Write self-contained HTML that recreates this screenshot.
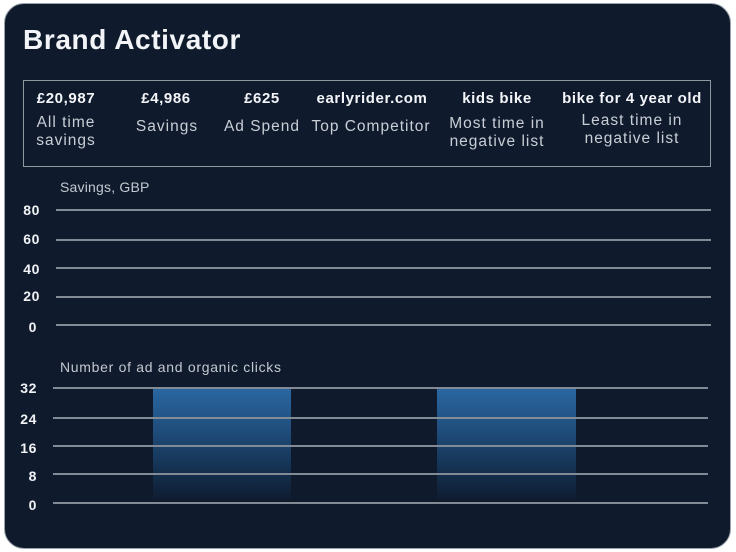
<!DOCTYPE html>
<html><head><meta charset="utf-8"><style>
*{margin:0;padding:0;box-sizing:border-box}
body{width:736px;height:552px;background:#fff;position:relative;overflow:hidden;font-family:"Liberation Sans",sans-serif}
.card{position:absolute;left:4px;top:3px;width:727px;height:546px;background:#0f1b2d;border-radius:20px;border:1px solid #9aa2ad}
.abs{position:absolute;white-space:nowrap}
.title{left:23px;top:24px;font-size:28px;font-weight:bold;color:#f2f4f7;letter-spacing:0.6px}
.box{position:absolute;left:23px;top:80px;width:688px;height:87px;border:1.5px solid #8f97a1}
.v{font-size:15px;font-weight:bold;color:#f3f5f8;letter-spacing:0.6px;transform:translateX(-50%);text-align:center;line-height:18px}
.d{font-size:15.5px;color:#c9ced6;letter-spacing:1px;transform:translateX(-50%);text-align:center;line-height:18px}
.ct{font-size:14px;color:#c3c8cf;letter-spacing:0.2px}
.g{position:absolute;height:1.5px;background:#828a95}
.yl{font-size:14px;font-weight:bold;color:#f0f2f5;text-align:right;width:30px;line-height:16px;letter-spacing:0.6px}
.bar{position:absolute;top:387px;height:112px;background:linear-gradient(to bottom,#2a68a3 0%,#1f4c7a 40%,#14304f 75%,#0f1d33 100%)}
</style></head><body>
<div class="card"></div>
<div class="abs title">Brand Activator</div>
<div class="box"></div>

<div class="abs v" style="left:66px;top:90px">£20,987</div>
<div class="abs d" style="left:66px;top:114px">All time<br>savings</div>

<div class="abs v" style="left:166px;top:90px">£4,986</div>
<div class="abs d" style="left:167px;top:118px">Savings</div>

<div class="abs v" style="left:262px;top:90px">£625</div>
<div class="abs d" style="left:262px;top:118px">Ad Spend</div>

<div class="abs v" style="left:372px;top:90px">earlyrider.com</div>
<div class="abs d" style="left:371px;top:118px">Top Competitor</div>

<div class="abs v" style="left:497px;top:90px">kids bike</div>
<div class="abs d" style="left:497px;top:115px">Most time in<br>negative list</div>

<div class="abs v" style="left:632px;top:90px">bike for 4 year old</div>
<div class="abs d" style="left:632px;top:112px">Least time in<br>negative list</div>

<div class="abs ct" style="left:60px;top:179px">Savings, GBP</div>
<div class="g" style="left:56px;width:655px;top:209px"></div>
<div class="g" style="left:56px;width:655px;top:239px"></div>
<div class="g" style="left:56px;width:655px;top:267px"></div>
<div class="g" style="left:56px;width:655px;top:296px"></div>
<div class="g" style="left:56px;width:655px;top:324px"></div>
<div class="abs yl" style="left:10px;top:202px">80</div>
<div class="abs yl" style="left:10px;top:231px">60</div>
<div class="abs yl" style="left:10px;top:261px">40</div>
<div class="abs yl" style="left:10px;top:288px">20</div>
<div class="abs yl" style="left:7px;top:319px">0</div>

<div class="abs ct" style="left:60px;top:359px;letter-spacing:0.7px">Number of ad and organic clicks</div>
<div class="bar" style="left:153px;width:138px"></div>
<div class="bar" style="left:437px;width:139px"></div>
<div class="g" style="left:53px;width:655px;top:387px"></div>
<div class="g" style="left:53px;width:655px;top:417px"></div>
<div class="g" style="left:53px;width:655px;top:445px"></div>
<div class="g" style="left:53px;width:655px;top:473px"></div>
<div class="g" style="left:53px;width:655px;top:502px"></div>
<div class="abs yl" style="left:7px;top:380px">32</div>
<div class="abs yl" style="left:7px;top:411px">24</div>
<div class="abs yl" style="left:7px;top:440px">16</div>
<div class="abs yl" style="left:7px;top:468px">8</div>
<div class="abs yl" style="left:7px;top:497px">0</div>
</body></html>
